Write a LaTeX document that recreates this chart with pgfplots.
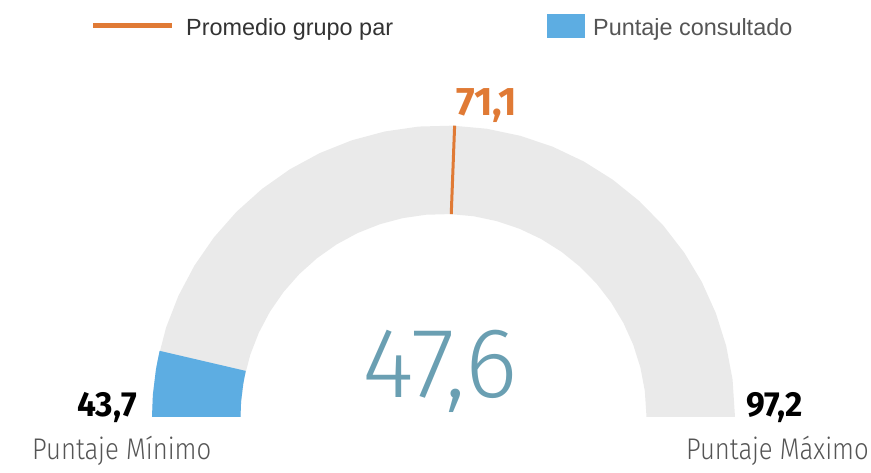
\documentclass[border=0pt]{standalone}
\usepackage{pgfplots}
\pgfplotsset{compat=1.18}
\usepgfplotslibrary{polar}
\usepackage{fontspec}
\setmainfont{Liberation Sans}
\newfontfamily\lightfont{Fira Sans}[UprightFont=* Light]
\newfontfamily\numfont{Fira Sans}
\definecolor{gaugegray}{HTML}{EAEAEA}
\definecolor{gaugeblue}{HTML}{5DADE2}
\definecolor{gaugeorange}{HTML}{E07A35}
\definecolor{gaugeteal}{HTML}{6A9FB2}
\definecolor{labelgray}{HTML}{555555}
\begin{document}
\begin{tikzpicture}[x=1bp,y=1bp]
\useasboundingbox (0,0) rectangle (871,473);
\begin{polaraxis}[
  at={(443.5,56)}, anchor=origin,
  hide axis, scale only axis,
  width=583bp, height=583bp,
  xmin=97.2, xmax=43.7, ymin=0, ymax=291.5,
  x coord trafo/.code={\pgfmathparse{180-(#1-43.7)*3.36448598}},
  clip=false]
% background band (min 43.7 to max 97.2), outer radius 291.5, inner 203
\addplot[draw=none, fill=gaugegray] coordinates {
 (43.7,291.5)(45,291.5)(47,291.5)(49,291.5)(51,291.5)(53,291.5)(55,291.5)(57,291.5)(59,291.5)(61,291.5)(63,291.5)(65,291.5)(67,291.5)(69,291.5)(71,291.5)(73,291.5)(75,291.5)(77,291.5)(79,291.5)(81,291.5)(83,291.5)(85,291.5)(87,291.5)(89,291.5)(91,291.5)(93,291.5)(95,291.5)(97.2,291.5)
 (97.2,203)(95,203)(93,203)(91,203)(89,203)(87,203)(85,203)(83,203)(81,203)(79,203)(77,203)(75,203)(73,203)(71,203)(69,203)(67,203)(65,203)(63,203)(61,203)(59,203)(57,203)(55,203)(53,203)(51,203)(49,203)(47,203)(45,203)(43.7,203)
} -- cycle;
% consulted score 47.6
\addplot[draw=none, fill=gaugeblue] coordinates {
 (43.7,291.5)(45,291.5)(46.5,291.5)(47.6,291.5)
 (47.6,203)(46.5,203)(45,203)(43.7,203)
} -- cycle;
% peer group average 71.1
\addplot[gaugeorange, line width=3bp] coordinates {(71.1,203)(71.1,291.5)};
\end{polaraxis}
% legend
\draw[gaugeorange, line width=5bp] (93,447.5) -- (172,447.5);
\node[anchor=base west, inner sep=0pt, text=black!80, font=\fontsize{23.5}{26}\selectfont] at (186,437) {Promedio grupo par};
\fill[gaugeblue] (547,435) rectangle (585,459);
\node[anchor=base west, inner sep=0pt, text=labelgray, font=\fontsize{23.5}{26}\selectfont] at (593,437) {Puntaje consultado};
% values
\node[anchor=base west, inner sep=0pt, text=gaugeorange] at (456,357) {\numfont\bfseries\fontsize{40}{44}\selectfont 71,1};
\node[anchor=base east, inner sep=0pt, text=black] at (137,56) {\scalebox{0.96}[1]{\numfont\bfseries\fontsize{35}{40}\selectfont 43,7}};
\node[anchor=base west, inner sep=0pt, text=black] at (746,56) {\scalebox{0.96}[1]{\numfont\bfseries\fontsize{35}{40}\selectfont 97,2}};
\node[anchor=base, inner sep=0pt, text=gaugeteal] at (440,75) {\lightfont\fontsize{100}{104}\selectfont 47,6};
% bottom labels
\node[anchor=base west, inner sep=0pt, text=labelgray] at (32,13) {\scalebox{0.86}[1]{\lightfont\fontsize{30}{34}\selectfont Puntaje Mínimo}};
\node[anchor=base east, inner sep=0pt, text=labelgray] at (869,13) {\scalebox{0.86}[1]{\lightfont\fontsize{30}{34}\selectfont Puntaje Máximo}};
\end{tikzpicture}
\end{document}
